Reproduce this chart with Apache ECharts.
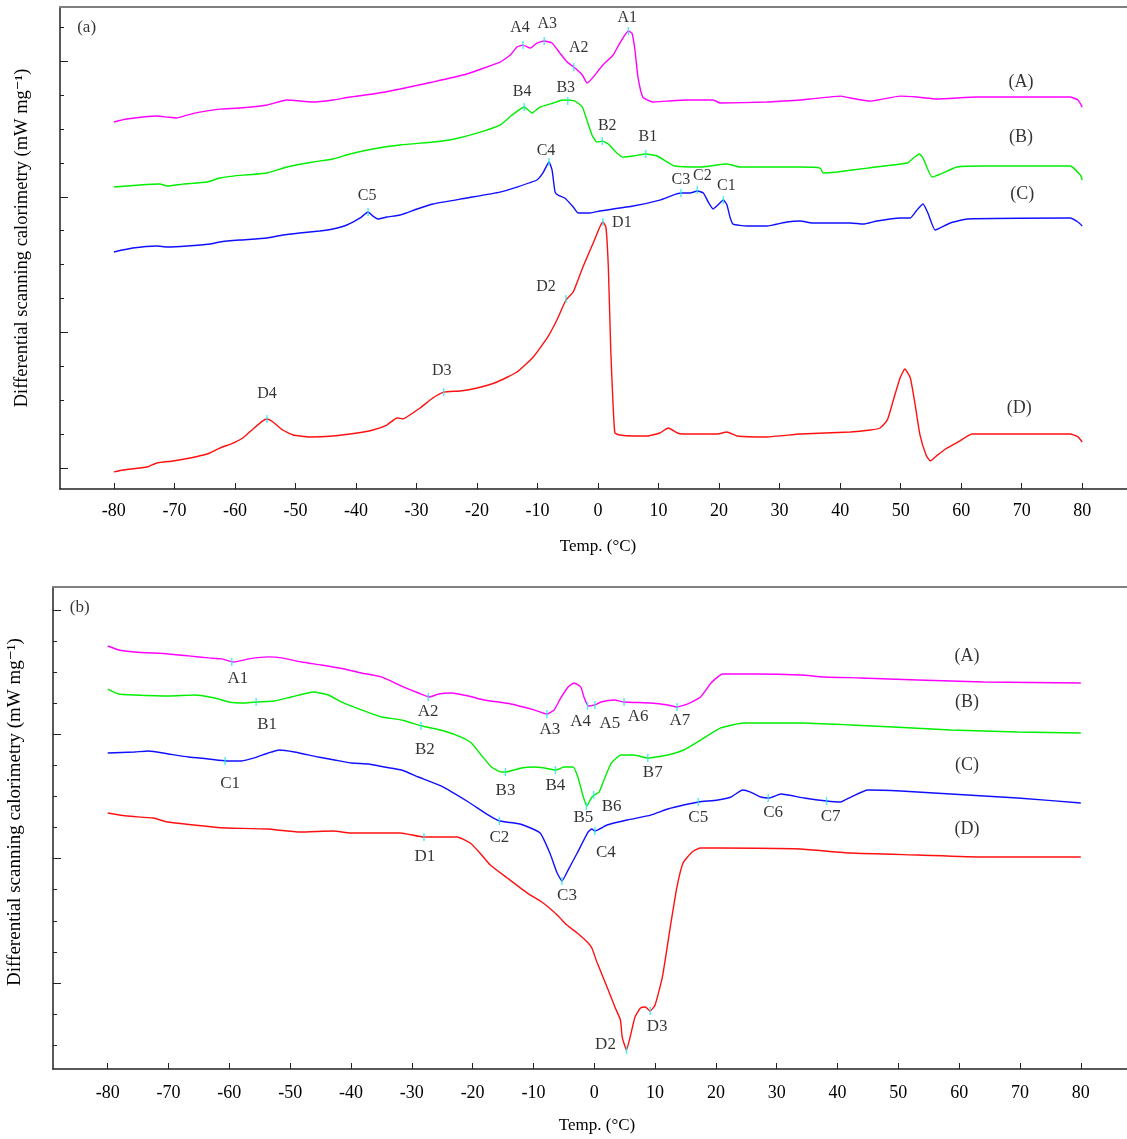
<!DOCTYPE html>
<html>
<head>
<meta charset="utf-8">
<title>DSC curves</title>
<script src="https://cdn.jsdelivr.net/npm/echarts@6/dist/echarts.min.js"></script>
<style>
  html, body { margin: 0; padding: 0; background: #fff; }
  #chart { width: 1127px; height: 1139px; }
</style>
</head>
<body>
<div id="chart"></div>
<script>
// temperature ticks shared by both panels
var tempTicks = [-80, -70, -60, -50, -40, -30, -20, -10, 0, 10, 20, 30, 40, 50, 60, 70, 80];
var curveTags = ['(A)', '(B)', '(C)', '(D)'];

// ---- panel (a): [temp °C, heat flow] ----
var aCurveA = [[-80,2.552],[-77.9,2.574],[-72.9,2.596],[-71.2,2.588],[-69.6,2.581],[-67.9,2.603],[-65.8,2.625],[-62.5,2.647],[-59.2,2.655],[-54.7,2.677],[-51.4,2.714],[-47.1,2.699],[-43.8,2.714],[-41.0,2.736],[-37.2,2.758],[-32.7,2.795],[-27.3,2.847],[-21.7,2.906],[-16.2,2.994],[-14.5,3.046],[-13.4,3.105],[-12.4,3.119],[-11.2,3.097],[-10.1,3.134],[-8.9,3.149],[-7.6,3.134],[-6.3,3.060],[-5.1,2.994],[-4.0,2.957],[-2.6,2.898],[-1.8,2.839],[-0.8,2.883],[0.8,2.972],[2.5,3.046],[3.6,3.134],[5.0,3.223],[5.6,3.208],[6.1,3.083],[6.6,2.883],[7.4,2.736],[9.1,2.699],[11.4,2.706],[14.7,2.714],[19.0,2.714],[20.2,2.692],[27.9,2.699],[33.4,2.714],[35.0,2.721],[40.0,2.743],[41.7,2.729],[45.0,2.706],[49.9,2.743],[52.7,2.736],[56.0,2.721],[62.6,2.736],[78.0,2.736],[79.3,2.714],[80,2.662]];
var aCurveB = [[-80,2.072],[-75.7,2.087],[-72.4,2.094],[-71.2,2.080],[-68.6,2.094],[-64.6,2.109],[-62.5,2.139],[-60.3,2.153],[-54.7,2.176],[-51.4,2.220],[-47.1,2.257],[-43.8,2.279],[-41.0,2.316],[-37.2,2.353],[-32.7,2.382],[-27.3,2.404],[-24.5,2.419],[-20.0,2.470],[-16.2,2.529],[-14.2,2.603],[-12.2,2.662],[-10.9,2.618],[-9.6,2.662],[-7.4,2.692],[-5.8,2.714],[-3.8,2.706],[-2.6,2.662],[-2.0,2.588],[-1.0,2.456],[-0.2,2.404],[0.7,2.411],[1.7,2.389],[3.1,2.323],[4.1,2.293],[5.8,2.301],[7.9,2.316],[9.8,2.301],[11.4,2.257],[12.7,2.227],[16.9,2.220],[21.3,2.242],[23.5,2.220],[33.4,2.220],[36.7,2.212],[37.2,2.176],[39.5,2.183],[44.5,2.212],[51.1,2.249],[52.1,2.286],[53.1,2.316],[53.7,2.286],[55.2,2.146],[57.0,2.176],[59.3,2.220],[63.6,2.227],[78.0,2.227],[79.7,2.161],[80,2.124]];
var aCurveC = [[-80,1.593],[-76.9,1.622],[-72.9,1.637],[-71.2,1.630],[-67.9,1.637],[-64.1,1.652],[-62.5,1.667],[-59.2,1.681],[-54.7,1.696],[-52.1,1.718],[-49.3,1.733],[-46.0,1.748],[-43.8,1.763],[-41.5,1.792],[-39.3,1.844],[-38.0,1.888],[-37.2,1.858],[-36.4,1.836],[-34.9,1.851],[-32.7,1.866],[-29.9,1.910],[-27.3,1.947],[-21.7,1.991],[-16.2,2.035],[-13.4,2.072],[-10.1,2.124],[-9.1,2.176],[-8.1,2.257],[-7.6,2.198],[-7.1,2.035],[-6.6,2.013],[-5.5,1.991],[-4.1,1.925],[-3.3,1.881],[-1.3,1.881],[0.3,1.895],[5.8,1.932],[10.2,1.976],[12.4,2.013],[13.7,2.028],[15.2,2.028],[16.4,2.043],[17.4,2.028],[18.2,1.962],[19.0,1.910],[19.8,1.940],[20.7,1.976],[21.3,1.940],[21.8,1.851],[22.3,1.799],[24.6,1.785],[27.9,1.785],[31.2,1.814],[33.4,1.822],[35.4,1.807],[41.7,1.807],[43.8,1.799],[46.1,1.822],[49.9,1.844],[51.6,1.844],[52.7,1.903],[53.7,1.947],[54.5,1.881],[55.7,1.755],[58.2,1.807],[61.0,1.836],[78.0,1.844],[79.3,1.814],[80,1.785]];
var aCurveD = [[-80,-0.029],[-78.5,-0.015],[-74.5,0.007],[-72.9,0.037],[-70.2,0.052],[-67.4,0.074],[-64.6,0.103],[-62.5,0.147],[-60.3,0.184],[-58.7,0.221],[-57.0,0.288],[-55.4,0.347],[-54.7,0.361],[-53.7,0.339],[-52.1,0.280],[-50.4,0.243],[-47.6,0.229],[-43.8,0.236],[-39.8,0.258],[-37.2,0.280],[-34.9,0.317],[-33.2,0.369],[-32.2,0.362],[-31.6,0.376],[-29.4,0.442],[-27.3,0.516],[-25.5,0.560],[-22.8,0.568],[-20.0,0.590],[-16.7,0.634],[-13.4,0.708],[-10.7,0.819],[-8.4,0.959],[-6.8,1.091],[-5.3,1.239],[-4.1,1.298],[-2.5,1.482],[-0.8,1.659],[0.3,1.777],[0.8,1.814],[1.3,1.777],[1.7,1.482],[2.1,0.870],[2.5,0.450],[2.8,0.258],[3.6,0.243],[5.8,0.236],[8.1,0.236],[10.2,0.258],[11.6,0.295],[13.1,0.258],[14.0,0.251],[19.7,0.251],[21.3,0.265],[23.0,0.236],[27.9,0.229],[33.4,0.251],[41.7,0.265],[45.0,0.280],[46.6,0.295],[47.8,0.354],[48.8,0.501],[49.9,0.664],[50.7,0.730],[51.6,0.664],[52.4,0.465],[53.2,0.243],[54.2,0.096],[54.9,0.052],[55.9,0.088],[57.4,0.140],[59.5,0.192],[61.8,0.251],[66.4,0.251],[78.0,0.251],[79.3,0.229],[80,0.192]];
// marked peaks: [name, temp, heat flow]
var aPeaks = [['A1',5.0,3.223],['A2',-4.0,2.957],['A3',-8.9,3.149],['A4',-12.4,3.119],
  ['B1',7.9,2.316],['B2',0.7,2.411],['B3',-5.0,2.706],['B4',-12.2,2.662],
  ['C1',20.7,1.976],['C2',16.4,2.050],['C3',13.7,2.028],['C4',-8.1,2.257],['C5',-38.0,1.888],
  ['D1',0.8,1.814],['D2',-5.3,1.246],['D3',-25.5,0.560],['D4',-54.7,0.361]];

// ---- panel (b) ----
var bCurveA = [[-80,2.709],[-78.2,2.677],[-75.6,2.661],[-70.0,2.645],[-66.7,2.629],[-63.4,2.613],[-61.3,2.605],[-59.3,2.580],[-56.8,2.605],[-53.6,2.621],[-51.4,2.613],[-48.1,2.580],[-44.9,2.556],[-41.1,2.524],[-38.3,2.492],[-35.0,2.460],[-31.7,2.387],[-28.9,2.331],[-27.1,2.299],[-25.6,2.323],[-23.5,2.331],[-20.7,2.307],[-18.1,2.275],[-13.7,2.243],[-9.9,2.195],[-7.8,2.162],[-6.6,2.195],[-5.5,2.291],[-4.3,2.379],[-3.3,2.412],[-2.2,2.379],[-1.7,2.299],[-1.0,2.227],[0.1,2.235],[1.1,2.259],[3.3,2.275],[4.9,2.259],[9.3,2.251],[12.1,2.235],[13.6,2.219],[15.4,2.243],[17.5,2.299],[19.2,2.412],[21.1,2.484],[26.2,2.484],[34.0,2.476],[37.7,2.460],[43.8,2.452],[53.2,2.436],[64.0,2.420],[80,2.412]];
var bCurveB = [[-80,2.363],[-78.2,2.323],[-75.6,2.315],[-70.0,2.307],[-65.7,2.315],[-62.4,2.291],[-60.1,2.259],[-57.5,2.251],[-55.4,2.259],[-52.6,2.267],[-49.8,2.299],[-46.2,2.339],[-43.7,2.315],[-41.6,2.259],[-38.3,2.195],[-35.0,2.138],[-31.7,2.114],[-28.3,2.066],[-24.7,2.026],[-21.9,1.977],[-20.2,1.929],[-18.6,1.833],[-16.9,1.736],[-15.3,1.696],[-14.5,1.696],[-12.0,1.728],[-9.9,1.736],[-8.2,1.728],[-6.3,1.712],[-5.0,1.736],[-3.5,1.736],[-2.7,1.656],[-1.8,1.495],[-1.2,1.423],[-0.5,1.487],[0.0,1.511],[0.8,1.535],[1.6,1.632],[2.8,1.768],[4.4,1.833],[6.5,1.833],[8.8,1.809],[12.1,1.833],[14.7,1.873],[17.5,1.953],[20.8,2.050],[24.6,2.090],[34.0,2.090],[42.2,2.074],[49.2,2.058],[58.6,2.034],[69.6,2.018],[80,2.010]];
var bCurveC = [[-80,1.849],[-75.6,1.857],[-73.3,1.865],[-70.0,1.841],[-66.7,1.817],[-63.4,1.801],[-60.5,1.785],[-58.0,1.785],[-55.9,1.809],[-53.6,1.849],[-51.8,1.873],[-49.3,1.857],[-45.4,1.817],[-42.7,1.793],[-39.9,1.768],[-37.1,1.760],[-34.5,1.736],[-31.7,1.712],[-28.9,1.656],[-25.2,1.584],[-20.7,1.455],[-17.4,1.350],[-15.5,1.302],[-13.2,1.286],[-11.7,1.270],[-8.9,1.206],[-7.3,1.045],[-6.1,0.884],[-5.3,0.820],[-4.3,0.908],[-2.8,1.045],[-1.0,1.214],[-0.4,1.238],[0.1,1.222],[2.1,1.270],[5.4,1.310],[9.3,1.350],[12.1,1.399],[14.7,1.431],[17.2,1.455],[20.3,1.471],[22.5,1.495],[24.4,1.551],[25.7,1.535],[27.4,1.495],[28.7,1.487],[30.7,1.519],[34.5,1.487],[38.2,1.463],[40.5,1.455],[42.2,1.495],[45.0,1.551],[50.4,1.543],[58.6,1.519],[69.6,1.487],[80,1.447]];
var bCurveD = [[-80,1.367],[-76.8,1.342],[-72.5,1.326],[-70.2,1.294],[-62.7,1.254],[-60.4,1.246],[-53.8,1.238],[-48.4,1.214],[-42.9,1.222],[-40.1,1.206],[-31.9,1.206],[-28.0,1.174],[-23.7,1.174],[-22.5,1.174],[-20.4,1.125],[-18.8,1.045],[-17.1,0.949],[-14.3,0.844],[-11.0,0.723],[-8.4,0.643],[-6.1,0.547],[-4.5,0.466],[-2.8,0.402],[-1.0,0.322],[-0.4,0.281],[0.5,0.161],[2.1,-0.032],[3.4,-0.193],[4.3,-0.297],[4.6,-0.434],[5.3,-0.539],[5.9,-0.434],[6.7,-0.273],[7.6,-0.201],[8.4,-0.193],[9.2,-0.225],[10.0,-0.177],[11.2,0.048],[12.5,0.450],[13.6,0.772],[14.6,0.965],[16.1,1.053],[17.4,1.085],[20.7,1.085],[33.9,1.077],[42.1,1.045],[53.2,1.029],[64.0,1.013],[80,1.013]];
var bPeaks = [['A1',-59.6,2.580],['A2',-27.3,2.299],['A3',-7.8,2.162],['A4',-1.1,2.227],['A5',0.1,2.235],['A6',4.9,2.259],['A7',13.6,2.219],
  ['B1',-55.6,2.259],['B2',-28.5,2.066],['B3',-14.6,1.696],['B4',-6.4,1.712],['B5',-1.3,1.423],['B6',-0.1,1.511],['B7',8.8,1.809],
  ['C1',-60.7,1.785],['C2',-15.6,1.302],['C3',-5.3,0.820],['C4',0.1,1.222],['C5',17.1,1.455],['C6',28.6,1.487],['C7',38.2,1.463],
  ['D1',-28.0,1.174],['D2',5.3,-0.539],['D3',9.2,-0.225]];

// ---- layout / style ----
var FONT = '"Liberation Serif", "Times New Roman", "DejaVu Serif", serif';
var TEXT = '#000';
var CYAN = '#2ee6f0';
var curveColors = ['#ff00ff', '#00ee00', '#1010ff', '#ff1010'];

// label shift from its peak mark, px
var aShift = {A1:[-1,-13],A2:[5,-19],A3:[3,-17],A4:[-3,-17],B1:[2,-17],B2:[5,-15],B3:[-2,-13],B4:[-2,-15],
  C1:[3,-14],C2:[5,-14],C3:[0,-13],C4:[-3,-11],C5:[-1,-16],D1:[19,1],D2:[-20,-12],D3:[-2,-21],D4:[0,-25]};
var bShift = {A1:[6,17],A2:[0,15],A3:[3,15],A4:[-7,16],A5:[15,19],A6:[14,15],A7:[3,14],
  B1:[11,23],B2:[4,24],B3:[0,19],B4:[0,16],B5:[-3,12],B6:[18,12],B7:[5,15],
  C1:[5,23],C2:[0,16],C3:[5,15],C4:[11,22],C5:[0,16],C6:[5,15],C7:[4,16],
  D1:[1,20],D2:[-21,-6],D3:[7,16]};
// where the (A)..(D) tags and panel letters sit, in axis units
var aTagAt = [[69.9,2.847],[69.9,2.441],[70.1,2.021],[69.6,0.442]];
var bTagAt = [[61.3,2.629],[61.3,2.259],[61.3,1.752],[61.3,1.238]];
var panelLetterAt = [[-84.5,3.252],[-84.6,3.014]];

var panels = [
  { grid: {left: 60, top: 7, right: 0, height: 482}, xMin: -88.9, xMax: 87.4, yMin: -0.155, yMax: 3.4,
    major: [0, 1, 2, 3], labelMargin: 13, peakSize: 16 },
  { grid: {left: 53, top: 587, right: 0, height: 482}, xMin: -89.0, xMax: 87.6, yMin: -0.691, yMax: 3.183,
    major: [0, 1, 2, 3], labelMargin: 15, peakSize: 17 }
];

function minorTicks(p) {
  var out = [];
  for (var v = -1; v <= 4; v += 0.25) {
    if (v % 1 !== 0 && v > p.yMin && v < p.yMax) out.push(v);
  }
  return out;
}

function buildAxes(p, i) {
  var dark = {color: '#222', width: 1.5};
  var x = [{
    type: 'value', gridIndex: i, position: 'bottom', min: p.xMin, max: p.xMax,
    axisLine: {onZero: false, lineStyle: dark},
    axisTick: {inside: true, length: 6, customValues: tempTicks, lineStyle: {color: '#222'}},
    axisLabel: {customValues: tempTicks, margin: p.labelMargin, fontFamily: FONT, fontSize: 18, color: TEXT},
    splitLine: {show: false}
  }, {
    type: 'value', gridIndex: i, position: 'top', min: p.xMin, max: p.xMax,
    axisLine: {show: true, onZero: false, lineStyle: {color: '#808080', width: 2}},
    axisTick: {show: false}, axisLabel: {show: false}, splitLine: {show: false}
  }];
  // two left axes: long major ticks and short minor ticks
  var y = [{
    type: 'value', gridIndex: i, position: 'left', min: p.yMin, max: p.yMax,
    axisLine: {show: true, onZero: false, lineStyle: dark},
    axisTick: {inside: true, length: 8, customValues: p.major, lineStyle: {color: '#222'}},
    axisLabel: {show: false}, splitLine: {show: false}
  }, {
    type: 'value', gridIndex: i, position: 'left', offset: 0, min: p.yMin, max: p.yMax,
    axisLine: {show: false, onZero: false},
    axisTick: {inside: true, length: 4, customValues: minorTicks(p), lineStyle: {color: '#222'}},
    axisLabel: {show: false}, splitLine: {show: false}
  }];
  return {x: x, y: y};
}

function lineSeries(data, color, i) {
  return {
    type: 'line', xAxisIndex: i * 2, yAxisIndex: i * 2, data: data,
    showSymbol: false, smooth: 0.15, silent: true, z: 2,
    lineStyle: {color: color, width: 1.4}, itemStyle: {color: color}
  };
}

function peakSeries(peaks, shift, i, size) {
  return {
    type: 'scatter', xAxisIndex: i * 2, yAxisIndex: i * 2, silent: true, z: 4,
    symbol: 'rect', symbolSize: [1.5, 8], itemStyle: {color: CYAN},
    label: {show: true, position: 'inside', formatter: '{b}', fontFamily: FONT, fontSize: size, color: TEXT},
    data: peaks.map(function (p) {
      return {name: p[0], value: [p[1], p[2]], label: {offset: shift[p[0]]}};
    })
  };
}

function tagSeries(names, at, i, size) {
  return {
    type: 'scatter', xAxisIndex: i * 2, yAxisIndex: i * 2, silent: true, z: 4,
    symbolSize: 0,
    label: {show: true, position: 'inside', formatter: '{b}', fontFamily: FONT, fontSize: size, color: TEXT},
    data: names.map(function (n, k) { return {name: n, value: at[k]}; })
  };
}

function rotatedTitle(x, y, size) {
  return {
    type: 'text', x: x, y: y, rotation: Math.PI / 2,
    style: {text: 'Differential scanning calorimetry (mW mg\u207B\u00B9)', fontFamily: FONT, fontSize: size,
      fill: TEXT, align: 'center', verticalAlign: 'middle'}
  };
}

function flatTitle(x, y) {
  return {
    type: 'text', x: x, y: y,
    style: {text: 'Temp. (\u00B0C)', fontFamily: FONT, fontSize: 17, fill: TEXT, align: 'center', verticalAlign: 'middle'}
  };
}

var xAxes = [], yAxes = [];
panels.forEach(function (p, i) {
  var ax = buildAxes(p, i);
  xAxes = xAxes.concat(ax.x);
  yAxes = yAxes.concat(ax.y);
});

var aCurves = [aCurveA, aCurveB, aCurveC, aCurveD];
var bCurves = [bCurveA, bCurveB, bCurveC, bCurveD];
var series = [];
aCurves.forEach(function (c, k) { series.push(lineSeries(c, curveColors[k], 0)); });
bCurves.forEach(function (c, k) { series.push(lineSeries(c, curveColors[k], 1)); });
series.push(peakSeries(aPeaks, aShift, 0, panels[0].peakSize));
series.push(peakSeries(bPeaks, bShift, 1, panels[1].peakSize));
series.push(tagSeries(curveTags, aTagAt, 0, 18));
series.push(tagSeries(curveTags, bTagAt, 1, 18));
series.push(tagSeries(['(a)'], [panelLetterAt[0]], 0, 17));
series.push(tagSeries(['(b)'], [panelLetterAt[1]], 1, 17));

var chart = echarts.init(document.getElementById('chart'));
chart.setOption({
  animation: false,
  backgroundColor: '#fff',
  grid: panels.map(function (p) {
    return Object.assign({outerBoundsMode: 'none', containLabel: false}, p.grid);
  }),
  xAxis: xAxes,
  yAxis: yAxes,
  series: series,
  graphic: [rotatedTitle(22, 238, 18.5), rotatedTitle(15, 812, 19), flatTitle(598, 547), flatTitle(597, 1126)]
});
</script>
</body>
</html>
